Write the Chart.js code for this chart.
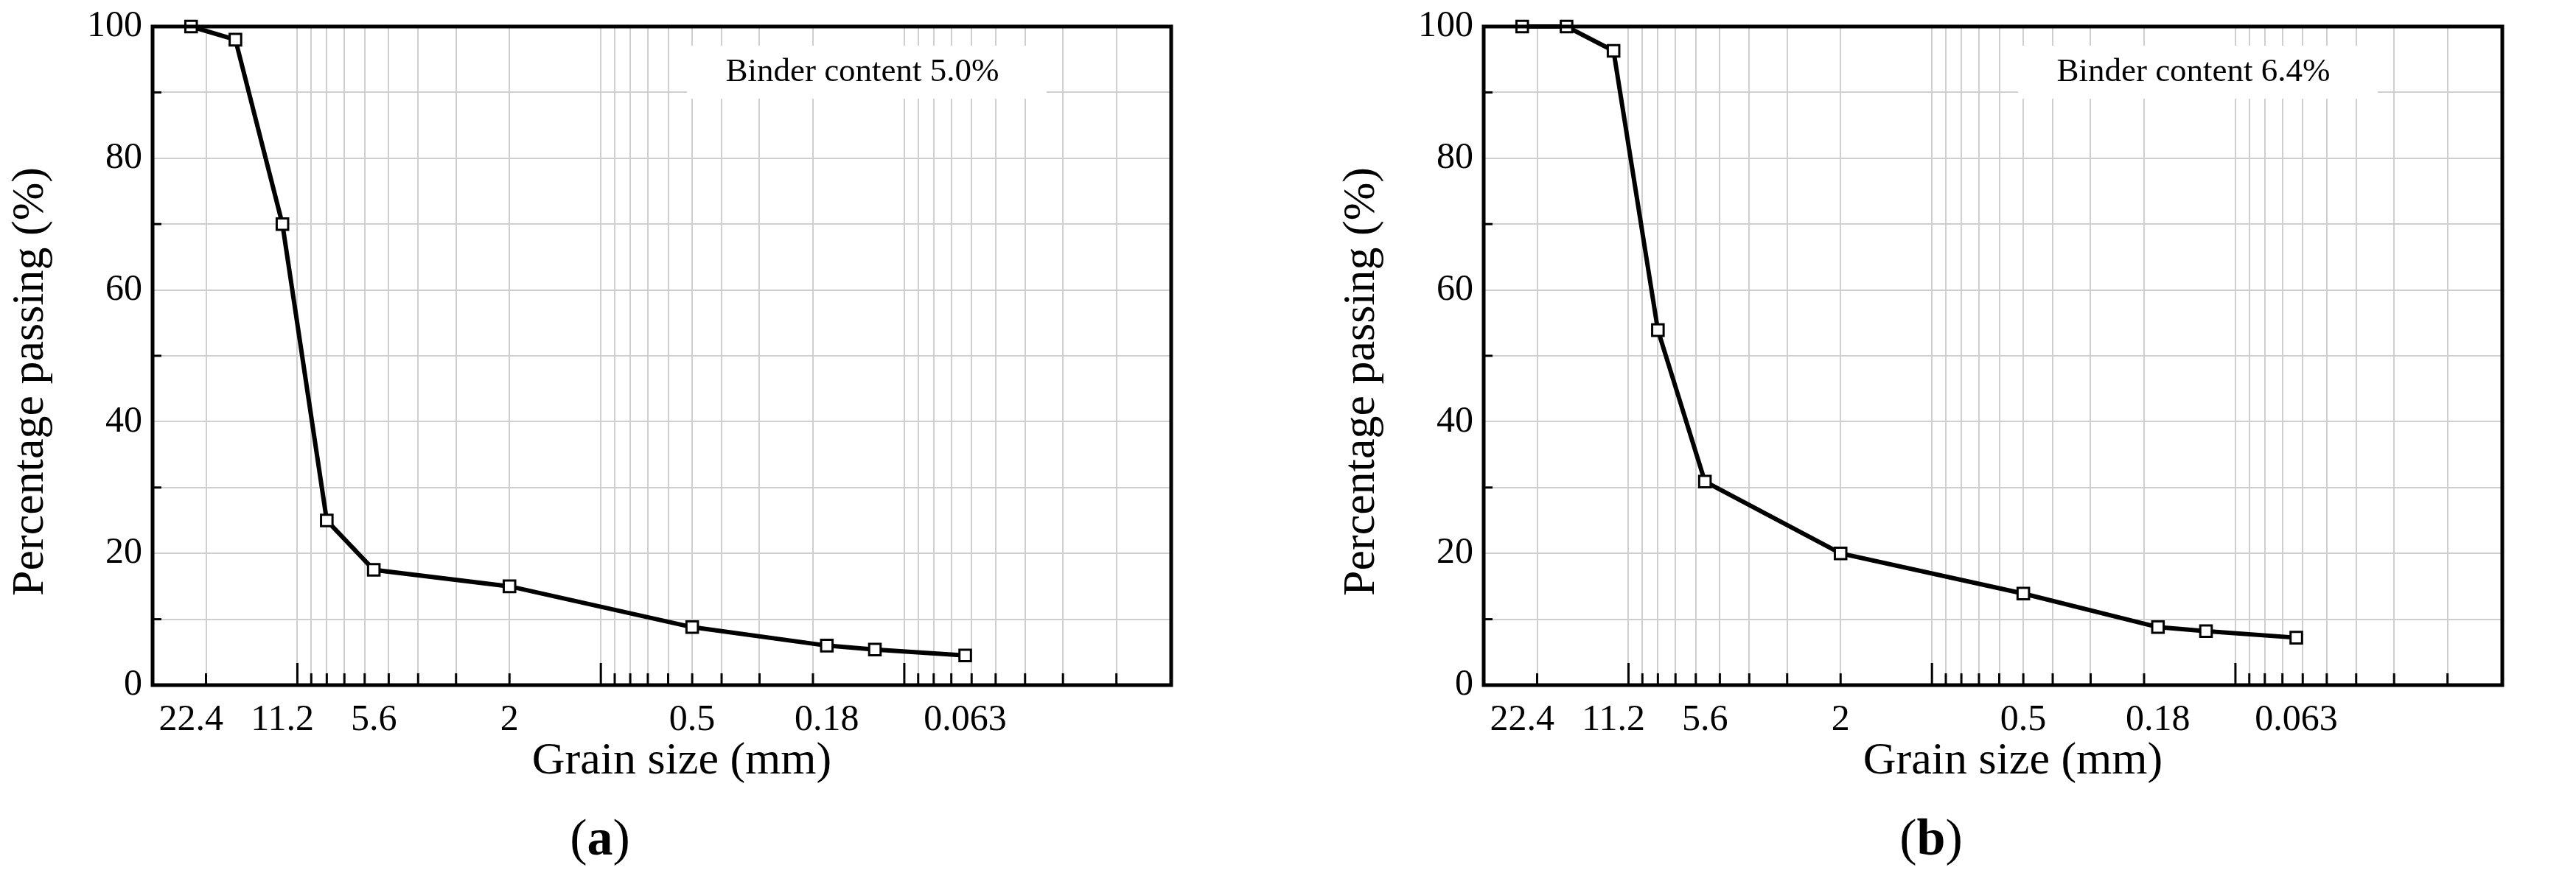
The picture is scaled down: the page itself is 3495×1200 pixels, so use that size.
<!DOCTYPE html>
<html><head><meta charset="utf-8">
<script src="https://cdn.jsdelivr.net/npm/chart.js@4"></script>
<style>html,body{margin:0;padding:0;background:#fff;width:3495px;height:1200px;overflow:hidden}
.p{position:absolute;top:0;height:1200px}</style></head>
<body>
<div class="p" style="left:0;width:1748px"><canvas id="ca"></canvas></div>
<div class="p" style="left:1748px;width:1747px"><canvas id="cb"></canvas></div>
<script>
const grainSizes = [22.4, 16, 11.2, 8, 5.6, 2, 0.5, 0.18, 0.125, 0.063];
const passingA = [100, 98, 70, 25, 17.5, 15, 8.8, 6.0, 5.4, 4.5];
const passingB = [100, 100, 96.3, 53.9, 30.9, 20, 13.9, 8.8, 8.2, 7.2];
const xTickLabels = [22.4, 11.2, 5.6, 2, 0.5, 0.18, 0.063];
const yTickLabels = [0, 20, 40, 60, 80, 100];
const FONT = '"Liberation Serif", "DejaVu Serif", serif';
const XMIN = 0.0132, XMAX = 30;

const minorVals = [];
for (const d of [10, 1, 0.1, 0.01]) for (let m = 1; m <= 9; m++) minorVals.push(+(m * d).toPrecision(3));
minorVals.push(20);

function make(id, data, note, letter, pad) {
  const deco = {
    id: 'deco',
    beforeDatasetsDraw(c) {
      const ctx = c.ctx, a = c.chartArea, xs = c.scales.x, ys = c.scales.y;
      ctx.save();
      ctx.strokeStyle = '#000'; ctx.lineWidth = 3;
      for (const v of minorVals) {
        if (v < XMIN || v > XMAX) continue;
        const px = xs.getPixelForValue(v);
        const major = (v === 10 || v === 1 || v === 0.1);
        ctx.beginPath(); ctx.moveTo(px, a.bottom); ctx.lineTo(px, a.bottom - (major ? 30 : 16)); ctx.stroke();
      }
      for (let v = 10; v < 100; v += 10) {
        const py = ys.getPixelForValue(v);
        ctx.beginPath(); ctx.moveTo(a.left, py); ctx.lineTo(a.left + (v % 20 ? 12 : 0), py); ctx.stroke();
      }
      ctx.restore();
    },
    afterDraw(c) {
      const ctx = c.ctx, a = c.chartArea, xs = c.scales.x, ys = c.scales.y;
      ctx.save();
      ctx.fillStyle = '#fff';
      ctx.fillRect(a.left + 725, a.top + 26, 488, 72);
      ctx.fillStyle = '#000';
      ctx.font = '45px ' + FONT; ctx.textAlign = 'center'; ctx.textBaseline = 'middle';
      ctx.fillText(note, a.left + 963, a.top + 62);
      ctx.strokeStyle = '#000'; ctx.lineWidth = 5;
      ctx.strokeRect(a.left, a.top, a.right - a.left, a.bottom - a.top);
      ctx.font = '50px ' + FONT; ctx.textAlign = 'right';
      for (const v of yTickLabels) ctx.fillText(String(v), a.left - 14, ys.getPixelForValue(v));
      ctx.textAlign = 'center';
      for (const v of xTickLabels) ctx.fillText(String(v), xs.getPixelForValue(v), a.bottom + 48);
      ctx.font = '62px ' + FONT;
      ctx.fillText('Grain size (mm)', (a.left + a.right) / 2 + 27, a.bottom + 104);
      ctx.save();
      ctx.translate(a.left - 165, (a.top + a.bottom) / 2 + 35);
      ctx.rotate(-Math.PI / 2);
      ctx.fillText('Percentage passing (%)', 0, 0);
      ctx.restore();
      const cx = (a.left + a.right) / 2 - 84, cy = a.bottom + 212;
      ctx.font = '70px ' + FONT;
      const w1 = ctx.measureText('(').width, w3 = ctx.measureText(')').width;
      ctx.font = 'bold 70px ' + FONT;
      const w2 = ctx.measureText(letter).width;
      const x0 = cx - (w1 + w2 + w3) / 2;
      ctx.textAlign = 'left';
      ctx.font = '70px ' + FONT; ctx.fillText('(', x0, cy);
      ctx.font = 'bold 70px ' + FONT; ctx.fillText(letter, x0 + w1, cy);
      ctx.font = '70px ' + FONT; ctx.fillText(')', x0 + w1 + w2, cy);
      ctx.restore();
    }
  };
  new Chart(document.getElementById(id), {
    type: 'line',
    data: { datasets: [{
      data: grainSizes.map((g, i) => ({ x: g, y: data[i] })),
      borderColor: '#000', borderWidth: 6, tension: 0,
      pointStyle: 'rect', pointRadius: 11, pointBackgroundColor: '#fff',
      pointBorderColor: '#000', pointBorderWidth: 3, clip: false
    }]},
    options: {
      responsive: true, maintainAspectRatio: false, animation: false,
      devicePixelRatio: 1,
      layout: { padding: pad },
      plugins: { legend: { display: false }, tooltip: { enabled: false } },
      scales: {
        x: {
          type: 'logarithmic', reverse: true, min: XMIN, max: XMAX,
          afterBuildTicks: s => { s.ticks = minorVals.filter(v => v >= XMIN && v <= XMAX).map(v => ({ value: v })); },
          ticks: { display: false },
          grid: { color: '#cfcfcf', lineWidth: 2, drawTicks: false },
          border: { display: false }
        },
        y: {
          min: 0, max: 100,
          afterBuildTicks: s => { const t = []; for (let v = 0; v <= 100; v += 10) t.push({ value: v }); s.ticks = t; },
          ticks: { display: false },
          grid: { color: '#cfcfcf', lineWidth: 2, drawTicks: false },
          border: { display: false }
        }
      }
    },
    plugins: [deco]
  });
}
make('ca', passingA, 'Binder content 5.0%', 'a', { left: 207, right: 159, top: 36, bottom: 270 });
make('cb', passingB, 'Binder content 6.4%', 'b', { left: 265, right: 100, top: 36, bottom: 270 });
</script>
</body></html>
